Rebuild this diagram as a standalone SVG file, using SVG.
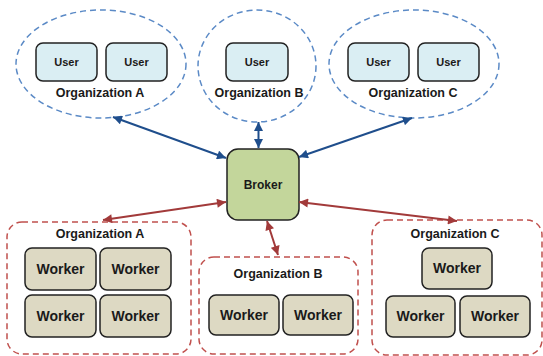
<svg xmlns="http://www.w3.org/2000/svg" width="543" height="356" viewBox="0 0 543 356">
  <defs>
    <marker id="ab" viewBox="0 0 10 10" refX="10" refY="5" markerWidth="10" markerHeight="9" markerUnits="userSpaceOnUse" orient="auto-start-reverse">
      <path d="M0,0 L10,5 L0,10 z" fill="#1f4e8c"/>
    </marker>
    <marker id="ar" viewBox="0 0 10 10" refX="10" refY="5" markerWidth="10" markerHeight="9" markerUnits="userSpaceOnUse" orient="auto-start-reverse">
      <path d="M0,0 L10,5 L0,10 z" fill="#a23a3a"/>
    </marker>
  </defs>
  <style>
    text { font-family: "Liberation Sans", Arial, sans-serif; font-weight: bold; fill: #1a1a1a; text-anchor: middle; }
    .org-user { fill: none; stroke: #5b8ac6; stroke-width: 1.5; stroke-dasharray: 6 4; }
    .org-work { fill: none; stroke: #c0504d; stroke-width: 1.5; stroke-dasharray: 6 4; }
    .user { fill: #daeef3; stroke: #222; stroke-width: 1.5; }
    .worker { fill: #ddd9c3; stroke: #222; stroke-width: 1.5; }
    .broker { fill: #c3d69b; stroke: #222; stroke-width: 1.5; }
    .lbl { font-size: 12.5px; }
    .ut { font-size: 11px; }
    .wt { font-size: 14px; }
    .cb { stroke: #1f4e8c; stroke-width: 2; fill: none; marker-start: url(#ab); marker-end: url(#ab); }
    .cr { stroke: #a23a3a; stroke-width: 2; fill: none; marker-start: url(#ar); marker-end: url(#ar); }
  </style>

  <!-- user organizations -->
  <g id="user-org-a">
    <ellipse class="org-user" cx="101" cy="64" rx="85" ry="54"/>
    <rect class="user" x="36" y="43" width="61" height="38" rx="7"/>
    <text class="ut" x="66.5" y="66">User</text>
    <rect class="user" x="106" y="43" width="61" height="38" rx="7"/>
    <text class="ut" x="136.5" y="66">User</text>
    <text class="lbl" x="100" y="97">Organization A</text>
  </g>
  <g id="user-org-b">
    <ellipse class="org-user" cx="257" cy="66" rx="59" ry="56"/>
    <rect class="user" x="226" y="43" width="62" height="38" rx="7"/>
    <text class="ut" x="257" y="66">User</text>
    <text class="lbl" x="259" y="97">Organization B</text>
  </g>
  <g id="user-org-c">
    <ellipse class="org-user" cx="414" cy="64" rx="85" ry="54"/>
    <rect class="user" x="348" y="43" width="61" height="38" rx="7"/>
    <text class="ut" x="378.5" y="66">User</text>
    <rect class="user" x="418" y="43" width="61" height="38" rx="7"/>
    <text class="ut" x="448.5" y="66">User</text>
    <text class="lbl" x="413" y="97">Organization C</text>
  </g>

  <!-- broker -->
  <g id="broker">
    <rect class="broker" x="227" y="149" width="72" height="71" rx="11"/>
    <text x="263" y="189" style="font-size:12px">Broker</text>
  </g>

  <!-- worker organizations -->
  <g id="worker-org-a">
    <rect class="org-work" x="7" y="222" width="184" height="132" rx="15"/>
    <text class="lbl" x="100" y="238">Organization A</text>
    <rect class="worker" x="25" y="248" width="71" height="42" rx="7"/>
    <text class="wt" x="60.5" y="274">Worker</text>
    <rect class="worker" x="100" y="248" width="71" height="42" rx="7"/>
    <text class="wt" x="135.5" y="274">Worker</text>
    <rect class="worker" x="25" y="295" width="71" height="42" rx="7"/>
    <text class="wt" x="60.5" y="321">Worker</text>
    <rect class="worker" x="100" y="295" width="71" height="42" rx="7"/>
    <text class="wt" x="135.5" y="321">Worker</text>
  </g>
  <g id="worker-org-b">
    <rect class="org-work" x="199" y="257" width="159" height="97" rx="15"/>
    <text class="lbl" x="278" y="278">Organization B</text>
    <rect class="worker" x="209" y="295" width="70" height="40" rx="7"/>
    <text class="wt" x="244" y="320">Worker</text>
    <rect class="worker" x="283" y="295" width="70" height="40" rx="7"/>
    <text class="wt" x="318" y="320">Worker</text>
  </g>
  <g id="worker-org-c">
    <rect class="org-work" x="372" y="220" width="170" height="135" rx="15"/>
    <text class="lbl" x="455" y="238">Organization C</text>
    <rect class="worker" x="422" y="248" width="70" height="41" rx="7"/>
    <text class="wt" x="457" y="273">Worker</text>
    <rect class="worker" x="386" y="296" width="69" height="41" rx="7"/>
    <text class="wt" x="420.5" y="321">Worker</text>
    <rect class="worker" x="460" y="296" width="70" height="41" rx="7"/>
    <text class="wt" x="495" y="321">Worker</text>
  </g>

  <!-- connectors -->
  <g id="connectors">
    <line class="cb" x1="113" y1="117" x2="226" y2="158"/>
    <line class="cb" x1="258.5" y1="122" x2="258.5" y2="148"/>
    <line class="cb" x1="412" y1="118" x2="299" y2="157"/>
    <line class="cr" x1="103" y1="220" x2="226" y2="202"/>
    <line class="cr" x1="267" y1="221" x2="278" y2="255"/>
    <line class="cr" x1="299" y1="202" x2="457" y2="221"/>
  </g>
</svg>
